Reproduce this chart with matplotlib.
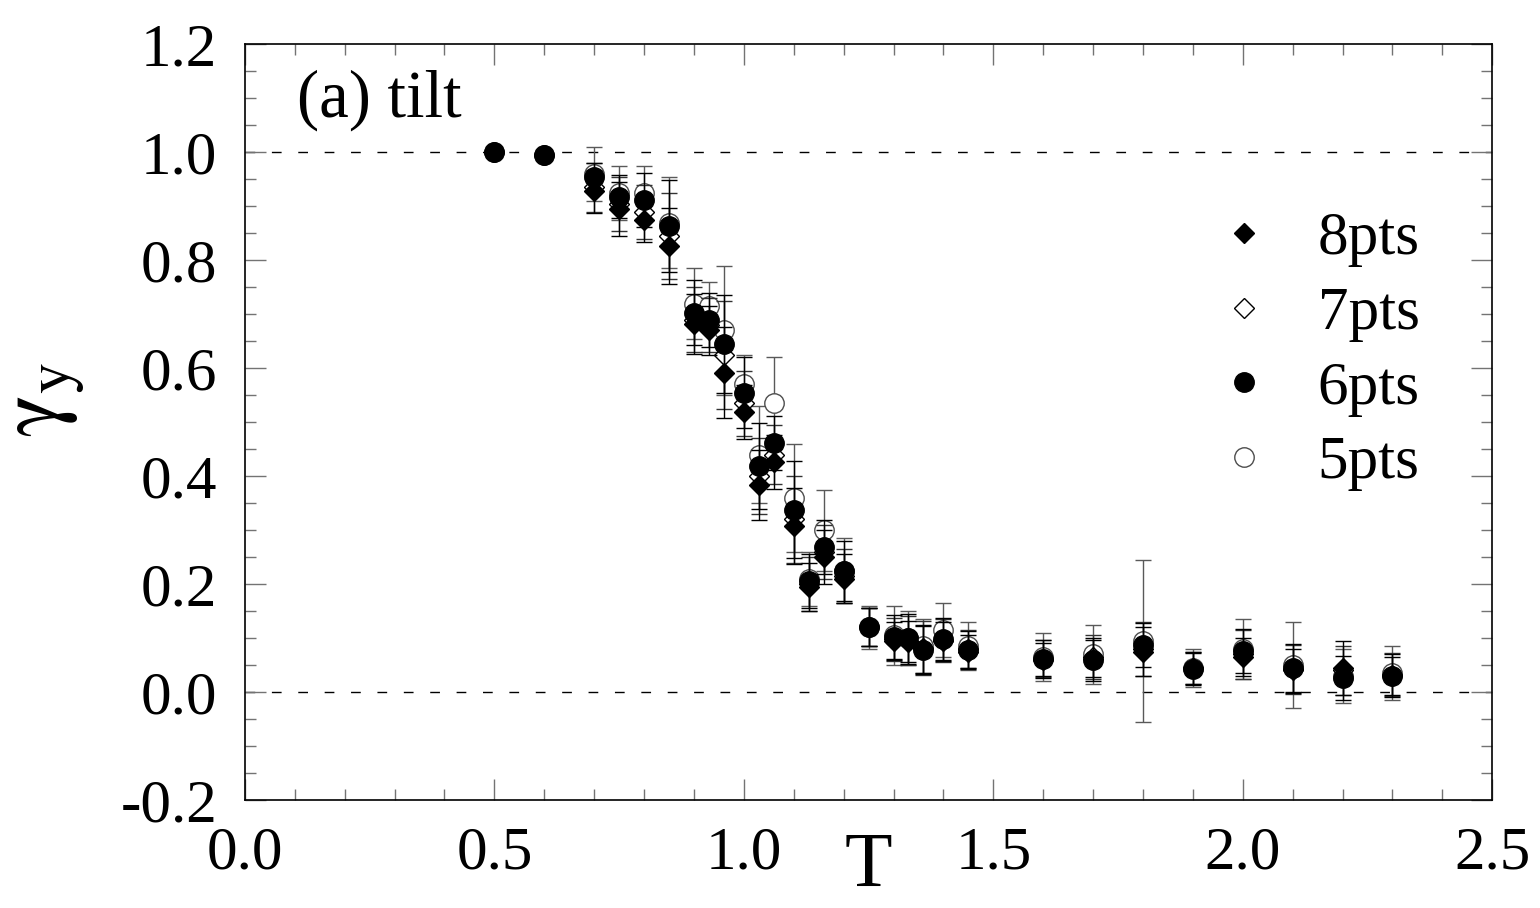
import numpy as np
import matplotlib
matplotlib.use("Agg")
import matplotlib.pyplot as plt
from matplotlib.ticker import MultipleLocator, FormatStrFormatter

# temperatures
T = [0.5, 0.6, 0.7, 0.75, 0.8, 0.85, 0.9, 0.93, 0.96, 1.0, 1.03, 1.06, 1.1, 1.13, 1.16,
     1.2, 1.25, 1.3, 1.33, 1.36, 1.4, 1.45, 1.6, 1.7, 1.8, 1.9, 2.0, 2.1, 2.2, 2.3]

# gamma_y for each number of fit points, with errors
gy_8 = [1.0, 0.995, 0.928, 0.896, 0.874, 0.827, 0.682, 0.67, 0.592, 0.519, 0.384, 0.427, 0.308, 0.195, 0.25,
        0.21, 0.12, 0.095, 0.092, 0.08, 0.094, 0.075, 0.06, 0.062, 0.075, 0.045, 0.065, 0.04, 0.045, 0.03]
err_8 = [0, 0, 0.04, 0.05, 0.04, 0.07, 0.055, 0.045, 0.085, 0.05, 0.065, 0.05, 0.07, 0.045, 0.05,
         0.045, 0.035, 0.035, 0.04, 0.045, 0.035, 0.03, 0.03, 0.035, 0.045, 0.03, 0.035, 0.04, 0.05, 0.035]

gy_7 = [1.0, 0.995, 0.935, 0.905, 0.89, 0.845, 0.69, 0.68, 0.625, 0.535, 0.40, 0.44, 0.32, 0.20, 0.26,
        0.215, 0.12, 0.098, 0.095, 0.082, 0.096, 0.08, 0.062, 0.065, 0.08, 0.045, 0.07, 0.042, 0.04, 0.032]
err_7 = [0, 0, 0.045, 0.05, 0.05, 0.08, 0.06, 0.05, 0.1, 0.06, 0.07, 0.055, 0.08, 0.05, 0.05,
         0.05, 0.035, 0.04, 0.045, 0.05, 0.04, 0.035, 0.035, 0.04, 0.05, 0.03, 0.045, 0.045, 0.045, 0.04]

gy_6 = [1.0, 0.995, 0.955, 0.918, 0.911, 0.863, 0.703, 0.69, 0.645, 0.555, 0.419, 0.462, 0.338, 0.206, 0.269,
        0.224, 0.121, 0.102, 0.100, 0.078, 0.098, 0.078, 0.061, 0.060, 0.087, 0.043, 0.076, 0.044, 0.026, 0.030]
err_6 = [0, 0, 0.025, 0.04, 0.05, 0.085, 0.06, 0.05, 0.09, 0.065, 0.08, 0.05, 0.09, 0.05, 0.05,
         0.055, 0.035, 0.04, 0.045, 0.045, 0.04, 0.035, 0.035, 0.04, 0.04, 0.03, 0.04, 0.045, 0.04, 0.04]

gy_5 = [1.0, 0.995, 0.96, 0.925, 0.925, 0.87, 0.72, 0.715, 0.67, 0.57, 0.44, 0.535, 0.36, 0.21, 0.30,
        0.225, 0.12, 0.105, 0.10, 0.085, 0.115, 0.085, 0.065, 0.07, 0.095, 0.045, 0.08, 0.05, 0.03, 0.035]
err_5 = [0, 0, 0.05, 0.05, 0.05, 0.085, 0.065, 0.045, 0.12, 0.055, 0.09, 0.085, 0.1, 0.05, 0.075,
         0.06, 0.04, 0.055, 0.05, 0.05, 0.05, 0.045, 0.045, 0.055, 0.15, 0.035, 0.055, 0.08, 0.05, 0.05]

plt.rcParams['font.family'] = ['Liberation Serif', 'DejaVu Serif']
plt.rcParams['mathtext.fontset'] = 'stix'

fig = plt.figure(figsize=(15.4, 9.08), dpi=100)
ax = fig.add_axes([0.159, 0.119, 0.81, 0.832])

# reference lines
ax.axhline(1.0, color='black', lw=1.0, ls=(0, (7, 12)), zorder=1)
ax.axhline(0.0, color='black', lw=1.0, ls=(0, (7, 12)), zorder=1)

series = [
    (gy_5, err_5, '5pts', 'o', 14, 'white', '0.3', '0.35', 2),
    (gy_7, err_7, '7pts', 'D', 10, 'white', 'black', '0.2', 3),
    (gy_8, err_8, '8pts', 'D', 10, 'black', 'black', 'black', 4),
    (gy_6, err_6, '6pts', 'o', 14, 'black', 'black', 'black', 5),
]
handles = {}
for y, e, lab, mk, ms, fc, ec, bc, z in series:
    ax.errorbar(T, y, yerr=e, fmt='none', ecolor=bc, elinewidth=1.0,
                capsize=5.5, capthick=1.0, zorder=z)
    h, = ax.plot(T, y, ls='none', marker=mk, ms=ms, mfc=fc, mec=ec, mew=1.0,
                 zorder=z + 0.5, label=lab)
    handles[lab] = h

order = ['8pts', '7pts', '6pts', '5pts']
ax.legend([handles[k] for k in order], order, loc='upper left',
          bbox_to_anchor=(0.7767, 0.779), frameon=False, fontsize=44,
          handlelength=1.0, handletextpad=0.70, labelspacing=0.31,
          borderpad=0, borderaxespad=0, markerscale=1.0)

ax.text(0.042, 0.905, '(a) tilt', transform=ax.transAxes, fontsize=48)

ax.set_xlim(0.0, 2.5)
ax.set_ylim(-0.2, 1.2)
ax.xaxis.set_major_locator(MultipleLocator(0.5))
ax.xaxis.set_minor_locator(MultipleLocator(0.1))
ax.yaxis.set_major_locator(MultipleLocator(0.2))
ax.yaxis.set_minor_locator(MultipleLocator(0.05))
ax.xaxis.set_major_formatter(FormatStrFormatter('%.1f'))
ax.yaxis.set_major_formatter(FormatStrFormatter('%.1f'))
ax.tick_params(which='both', direction='in', top=True, right=True, color='0.45', width=1.0)
ax.tick_params(which='major', length=15, labelsize=44)
ax.tick_params(axis='y', which='major', pad=20)
ax.tick_params(axis='x', which='major', pad=19)
ax.tick_params(which='minor', length=8)
for s in ax.spines.values():
    s.set_linewidth(1.2)

ax.set_xlabel('T', fontsize=56)
ax.xaxis.set_label_coords(0.5, -0.042)
ax.set_ylabel(r'$\mathrm{\gamma}_{\mathrm{y}}$', fontsize=64)
ax.yaxis.set_label_coords(-0.126, 0.53)

fig.savefig('out.png', dpi=100)
